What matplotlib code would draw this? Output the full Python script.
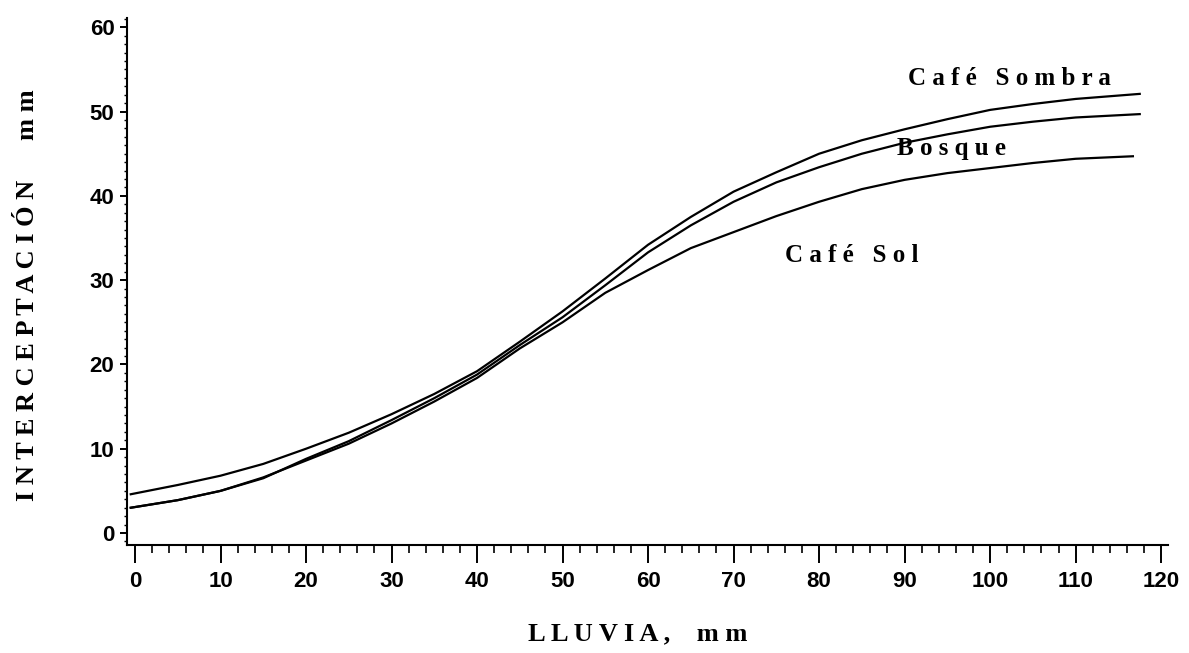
import matplotlib
matplotlib.use("Agg")
import matplotlib.pyplot as plt
from matplotlib.ticker import MultipleLocator

# Lluvia (mm) values
lluvia = [-0.5, 5, 10, 15, 20, 25, 30, 35, 40, 45, 50, 55, 60, 65, 70, 75,
          80, 85, 90, 95, 100, 105, 110, 117.5]
lluvia_sol = lluvia[:-1] + [116.7]

# Interception (mm) for each cover type
cafe_sombra = [4.6, 5.7, 6.8, 8.2, 10.0, 11.9, 14.1, 16.5, 19.2, 22.7, 26.3,
               30.2, 34.2, 37.5, 40.5, 42.8, 45.0, 46.6, 47.9, 49.1, 50.2,
               50.9, 51.5, 52.1]
bosque = [3.0, 3.9, 5.0, 6.5, 8.8, 10.9, 13.4, 16.0, 18.8, 22.3, 25.6, 29.4,
          33.3, 36.5, 39.3, 41.6, 43.4, 45.0, 46.3, 47.3, 48.2, 48.8, 49.3,
          49.7]
cafe_sol = [3.0, 3.9, 5.0, 6.6, 8.6, 10.6, 13.0, 15.6, 18.4, 21.9, 25.0, 28.5,
            31.2, 33.8, 35.7, 37.6, 39.3, 40.8, 41.9, 42.7, 43.3, 43.9, 44.4,
            44.7]

x_ticks = list(range(0, 121, 10))
y_ticks = list(range(0, 61, 10))

serif = "Liberation Serif"
sans = "Liberation Sans"


def make_plot():
    fig = plt.figure(figsize=(11.89, 6.53), dpi=100)
    ax = fig.add_axes([0.1068, 0.1654, 0.8755, 0.807])

    # the three curves, all plain black
    ax.plot(lluvia, cafe_sombra, color="black", lw=1.6)
    ax.plot(lluvia, bosque, color="black", lw=1.6)
    ax.plot(lluvia_sol, cafe_sol, color="black", lw=1.6)

    ax.set_xlim(-0.94, 120.8)
    ax.set_ylim(-1.42, 61.1)

    for side in ["top", "right"]:
        ax.spines[side].set_visible(False)
    for side in ["left", "bottom"]:
        ax.spines[side].set_linewidth(1.5)

    ax.set_xticks(x_ticks)
    ax.set_yticks(y_ticks)
    ax.xaxis.set_minor_locator(MultipleLocator(2))
    ax.yaxis.set_minor_locator(MultipleLocator(1))
    ax.tick_params(axis="x", which="major", direction="out", length=13,
                   width=1.4, pad=6)
    ax.tick_params(axis="x", which="minor", direction="out", length=6,
                   width=1.2)
    ax.tick_params(axis="y", which="major", direction="out", length=5,
                   width=1.4, pad=4)
    ax.tick_params(axis="y", which="minor", direction="out", length=2.5,
                   width=1.0)
    for lab in ax.get_xticklabels() + ax.get_yticklabels():
        lab.set_fontfamily(sans)
        lab.set_fontweight("bold")
        lab.set_fontsize(16)

    # curve labels
    ax.text(90.4, 53.1, "C a f é   S o m b r a", family=serif,
            fontweight="bold", fontsize=18, va="baseline", ha="left")
    ax.text(89.1, 44.8, "B o s q u e", family=serif,
            fontweight="bold", fontsize=18, va="baseline", ha="left")
    ax.text(76.0, 32.1, "C a f é   S o l", family=serif,
            fontweight="bold", fontsize=18, va="baseline", ha="left")

    # axis titles
    fig.text(0.536, 0.03, "L L U V I A ,    m m", family=serif,
             fontweight="bold", fontsize=19, ha="center", va="center")
    fig.text(0.0235, 0.548, "I N T E R C E P T A C I Ó N      m m",
             family=serif, fontweight="bold", fontsize=19, rotation=90,
             ha="center", va="center")

    plt.savefig("out.png", dpi=100)


make_plot()
